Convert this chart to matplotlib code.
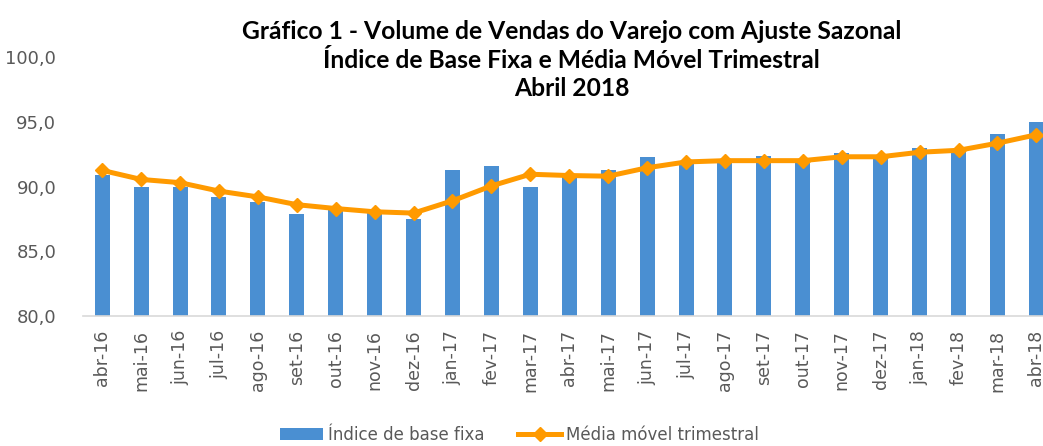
import matplotlib.pyplot as plt
import numpy as np

# data
meses = ['abr-16', 'mai-16', 'jun-16', 'jul-16', 'ago-16', 'set-16', 'out-16',
         'nov-16', 'dez-16', 'jan-17', 'fev-17', 'mar-17', 'abr-17', 'mai-17',
         'jun-17', 'jul-17', 'ago-17', 'set-17', 'out-17', 'nov-17', 'dez-17',
         'jan-18', 'fev-18', 'mar-18', 'abr-18']
indice = [90.9, 90.0, 90.0, 89.2, 88.8, 87.9, 88.2, 88.0, 87.5, 91.3, 91.6, 90.0,
          90.8, 91.3, 92.3, 92.0, 92.0, 92.35, 92.0, 92.6, 92.1, 93.0, 92.8, 94.05, 94.95]
media_movel = [91.25, 90.55, 90.3, 89.65, 89.2, 88.6, 88.3, 88.05, 87.95, 88.9, 90.05,
               90.95, 90.85, 90.8, 91.45, 91.9, 92.0, 92.0, 92.0, 92.3, 92.3, 92.65,
               92.8, 93.35, 94.0]
yticks = [80, 85, 90, 95, 100]

plt.rcParams['font.family'] = ['DejaVu Sans']

fig = plt.figure(figsize=(10.43, 4.46), dpi=100)
ax = fig.add_axes([0.0793, 0.2915, 0.933, 0.5805])

x = np.arange(len(meses))
barras = ax.bar(x, indice, width=0.385, color='#4A8FD2', label='Índice de base fixa', zorder=2)
linha, = ax.plot(x, media_movel, color='#FF9A00', lw=3.6, marker='D', ms=7,
                 label='Média móvel trimestral', zorder=3)

ax.set_xlim(-0.5, len(meses) - 0.5)
ax.set_ylim(80, 100)
ax.set_yticks(yticks)
ax.set_yticklabels([f'{v:.1f}'.replace('.', ',') for v in yticks],
                   fontsize=13, color='#595959')
ax.set_xticks(x)
ax.set_xticklabels(meses, rotation=90, fontsize=12.5, color='#595959')
ax.tick_params(length=0, pad=10)
ax.tick_params(axis='y', pad=19)
for s in ['top', 'right', 'left']:
    ax.spines[s].set_visible(False)
ax.spines['bottom'].set_color('#D9D9D9')
ax.spines['bottom'].set_linewidth(1.2)

fig.text(0.548, 0.955, 'Gráfico 1 - Volume de Vendas do Varejo com Ajuste Sazonal\n'
         'Índice de Base Fixa e Média Móvel Trimestral\nAbril 2018',
         ha='center', va='top', fontsize=17.7, fontweight='bold', linespacing=1.3,
         family=['Lato', 'DejaVu Sans'])

fig.legend([barras, linha], ['Índice de base fixa', 'Média móvel trimestral'],
           loc='center', bbox_to_anchor=(0.498, 0.025), ncol=2, frameon=False,
           fontsize=12, labelcolor='#595959', handlelength=2.6, columnspacing=2.0,
           handletextpad=0.3, borderpad=0)

fig.savefig('out.png', dpi=100)
